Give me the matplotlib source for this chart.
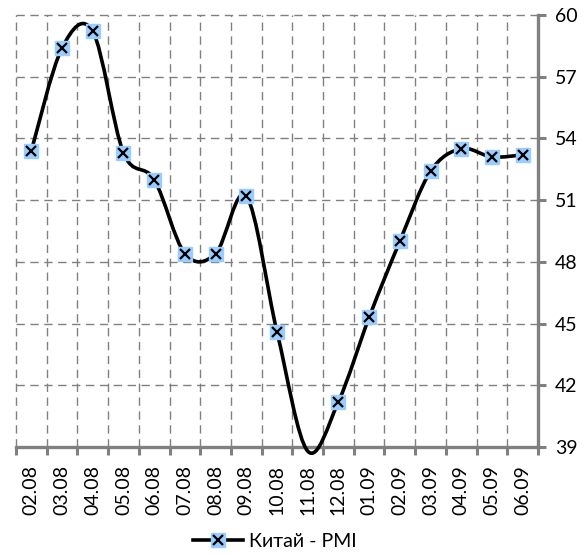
import numpy as np
import matplotlib
matplotlib.use("Agg")
import matplotlib.pyplot as plt
from matplotlib.path import Path
from matplotlib.patches import PathPatch
from matplotlib.lines import Line2D
from matplotlib.legend_handler import HandlerTuple

months = ["02.08", "03.08", "04.08", "05.08", "06.08", "07.08", "08.08", "09.08",
          "10.08", "11.08", "12.08", "01.09", "02.09", "03.09", "04.09", "05.09", "06.09"]
pmi = [53.4, 58.4, 59.2, 53.3, 52.0, 48.4, 48.4, 51.2,
       44.6, 38.8, 41.2, 45.3, 49.0, 52.4, 53.5, 53.1, 53.2]
y_ticks = [39, 42, 45, 48, 51, 54, 57, 60]
series_name = "Китай - PMI"

plt.rcParams["font.family"] = ["Lato", "Open Sans", "DejaVu Sans"]

GRID = "#808080"
MARK = "#99CCFF"


def smooth_path(xs, ys):
    # excel-style smoothed line: cubic bezier, catmull-rom control points
    pts = np.column_stack([xs, ys])
    n = len(pts)
    verts = [pts[0]]
    codes = [Path.MOVETO]
    for i in range(n - 1):
        p0 = pts[max(i - 1, 0)]
        p1 = pts[i]
        p2 = pts[i + 1]
        p3 = pts[min(i + 2, n - 1)]
        c1 = p1 + (p2 - p0) / 6.0
        c2 = p2 - (p3 - p1) / 6.0
        verts += [c1, c2, p2]
        codes += [Path.CURVE4] * 3
    return Path(verts, codes)


fig = plt.figure(figsize=(5.85, 5.55), dpi=100)
ax = fig.add_axes([16 / 585, 1 - 447 / 555, (538 - 16) / 585, (447 - 15) / 555])

x = np.arange(len(months))
xlo, xhi = -0.5, len(months) - 0.5

ax.set_xlim(xlo, xhi)
ax.set_ylim(39, 60)

# dashed grid, including the left and top edges of the plot area
dash = (0, (6, 4))
for b in np.arange(xlo, len(months) - 1, 1.0):
    ax.plot([b, b], [39, 60], color=GRID, lw=1.0, ls=dash, zorder=1, clip_on=False)
for yv in y_ticks[1:]:
    ax.plot([xlo, xhi], [yv, yv], color=GRID, lw=1.0, ls=dash, zorder=1, clip_on=False)

# line
patch = PathPatch(smooth_path(x, pmi), facecolor="none", edgecolor="black",
                  lw=2.6, zorder=3, clip_on=False, capstyle="round", joinstyle="round")
ax.add_patch(patch)

# markers (the 11.08 point is below the axis minimum, so no marker there)
shown = [i for i, v in enumerate(pmi) if v >= 39]
ax.plot(x[shown], np.array(pmi)[shown], ls="none", marker="s", ms=10,
        mfc=MARK, mec=MARK, zorder=4)
ax.plot(x[shown], np.array(pmi)[shown], ls="none", marker="x", ms=7,
        mew=1.6, color="black", zorder=5)

# spines
for s in ["left", "top"]:
    ax.spines[s].set_visible(False)
for s in ["right", "bottom"]:
    ax.spines[s].set_color(GRID)
    ax.spines[s].set_linewidth(2.4)
    ax.spines[s].set_zorder(2)

ax.yaxis.tick_right()
ax.set_yticks(y_ticks)
ax.set_yticklabels([str(v) for v in y_ticks])
ax.tick_params(axis="y", which="major", direction="out", length=6, width=2.2,
               color=GRID, labelsize=14, pad=6)

ax.set_xticks(x)
ax.set_xticklabels(months, rotation=90)
ax.set_xticks(np.arange(xlo, len(months), 1.0), minor=True)
ax.tick_params(axis="x", which="major", length=0, labelsize=14, pad=13)
ax.tick_params(axis="x", which="minor", direction="out", length=6, width=2.2, color=GRID)

# legend
h_line = Line2D([], [], color="black", lw=2.6)
h_sq = Line2D([], [], ls="none", marker="s", ms=10, mfc=MARK, mec=MARK)
h_x = Line2D([], [], ls="none", marker="x", ms=7, mew=1.6, color="black")
fig.legend([(h_line, h_sq, h_x)], [series_name],
           handler_map={tuple: HandlerTuple(ndivide=1)},
           loc="center", bbox_to_anchor=(0.47, 0.025), frameon=False,
           fontsize=14, handlelength=2.6, handletextpad=0.3)

fig.savefig("out.png", dpi=100)
